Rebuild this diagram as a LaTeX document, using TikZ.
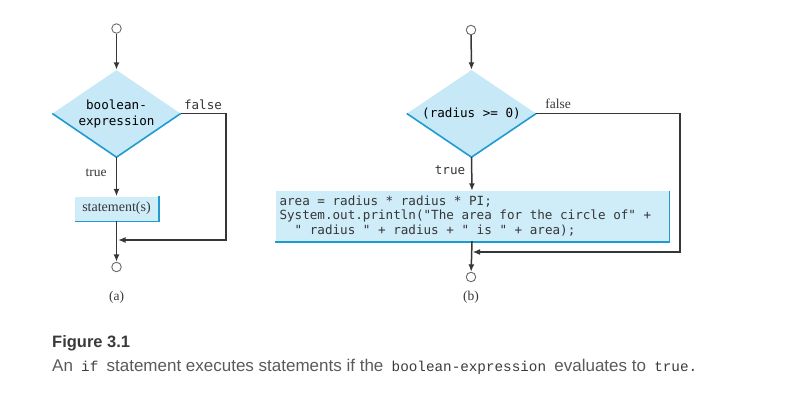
\documentclass[tikz,border=0pt]{standalone}
\usepackage{fontspec}
\setmainfont{Liberation Serif}
\newfontfamily\codefont{DejaVu Sans Mono}[Ligatures=TeXOff]
\newfontfamily\capsans{Liberation Sans}
\newfontfamily\capmono{Liberation Mono}[Ligatures=TeXOff]
\usetikzlibrary{arrows.meta,shapes.geometric,calc}
\definecolor{dfill}{HTML}{C6E8F7}
\definecolor{bfill}{HTML}{CFECF9}
\definecolor{bedge}{HTML}{1E9BD0}
\definecolor{lcol}{HTML}{363636}
\definecolor{ccol}{HTML}{6A6A6A}
\definecolor{capA}{HTML}{3A3A3A}
\definecolor{capB}{HTML}{5A5A5A}
\tikzset{
  flow/.style={draw=lcol, line width=1.5pt, -{Latex[length=7.5pt,width=6pt]}},
  plain/.style={draw=lcol, line width=1.5pt},
  term/.style={circle, draw=ccol, line width=0.9pt, fill=white, minimum size=9.5pt, inner sep=0pt},
  decision/.style={diamond, fill=dfill, inner sep=0pt, shape aspect=1.47, align=center,
     font=\codefont\fontsize{12.6}{16}\selectfont},
  stmtbox/.style={rectangle, fill=bfill, inner sep=0pt},
  edge/.style={draw=bedge, line width=1.6pt},
  serlabel/.style={font=\fontsize{13.5}{16}\selectfont, text=lcol, inner sep=0pt},
  monolabel/.style={font=\codefont\fontsize{12.6}{16}\selectfont, text=lcol, inner sep=0pt}
}
\newcommand{\capcode}[1]{\hspace{3.5pt}{\capmono\fontsize{14.3}{18}\selectfont\color{capA}#1}\hspace{3.5pt}}
\begin{document}
\begin{tikzpicture}[x=1pt,y=-1pt]
\useasboundingbox (0,0) rectangle (786,408);

% ---------- (a) ----------
\node[term] (a0) at (116.5,28.5) {};
\node[decision, minimum width=128pt, minimum height=87pt] (ad) at (116.5,113.5) {boolean-\\expression};
\draw[edge] (ad.west) -- (ad.south) -- (ad.east);
\node[stmtbox, minimum width=83pt, minimum height=24pt, font=\fontsize{14}{16}\selectfont, text=lcol] (as) at (116.5,208.5) {statement(s)};
\draw[edge] ([xshift=0.6pt]as.north east) -- ([xshift=0.6pt,yshift=-0.6pt]as.south east) -- ([yshift=-0.6pt]as.south west);
\node[term] (a1) at (116.5,267) {};
\coordinate (am) at (118,240);
\coordinate (ac) at (226,240);
\draw[flow] (a0) -- (ad.north);
\draw[flow] (ad.south) -- (as.north);
\draw[flow] (as.south) -- (a1);
\draw[flow] (ad.east) -| (ac) -- (am);
\node[monolabel] (afalse) at (203,104.5) {false};
\node[serlabel] (atrue) at (96,173) {true};
\node[serlabel] (alab) at (116.5,297) {(a)};

% ---------- (b) ----------
\node[term] (b0) at (471,30) {};
\node[decision, minimum width=129pt, minimum height=87pt] (bd) at (471.5,113.5) {(radius >= 0)};
\draw[edge] (bd.west) -- (bd.south) -- (bd.east);
\node[stmtbox, minimum width=393pt, minimum height=50pt, text width=385pt, align=left,
      font=\codefont\fontsize{12.6}{14.5}\selectfont, text=lcol] (bs) at (472,216)
  {\spaceskip=0pt\relax\xspaceskip=0pt\relax
   area = radius * radius * PI;\\
   System.out.println("The area for the circle of" +\\
   \hspace*{15.2pt}" radius " + radius + " is " + area);};
\draw[edge] ([xshift=0.6pt]bs.north east) -- ([xshift=0.6pt,yshift=-0.6pt]bs.south east) -- ([yshift=-0.6pt]bs.south west);
\node[term] (b1) at (471,277) {};
\coordinate (bm) at (472.5,252);
\coordinate (bc) at (680,252);
\draw[flow] (b0) -- (bd.north);
\draw[flow] (bd.south) -- (bs.north);
\draw[flow] (bs.south) -- (b1);
\draw[flow] (bd.east) -| (bc) -- (bm);
\node[serlabel] (bfalse) at (558,104) {false};
\node[monolabel] (btrue) at (450,170) {true};
\node[serlabel] (blab) at (471,297) {(b)};

% ---------- caption ----------
\node[anchor=base west, inner sep=0pt, text=capA, font=\capsans\bfseries\fontsize{16.5}{18}\selectfont] (cap1) at (52,347) {Figure 3.1};
\node[anchor=base west, inner sep=0pt, text=capB, font=\capsans\fontsize{17}{20}\selectfont] (cap2) at (52,371)
  {An \capcode{if} statement executes statements if the \capcode{boolean-expression} evaluates to \capcode{true.}};
\end{tikzpicture}
\end{document}
